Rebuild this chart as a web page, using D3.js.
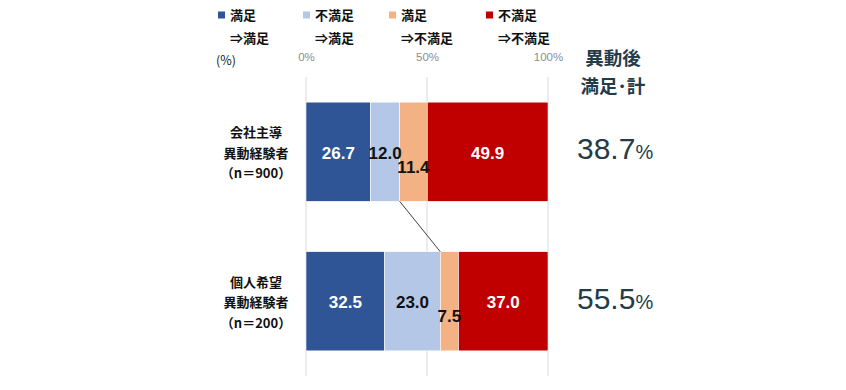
<!DOCTYPE html>
<html><head><meta charset="utf-8">
<script src="https://cdn.jsdelivr.net/npm/d3@7"></script>
<style>body{margin:0;background:#fff;} svg{display:block;}</style>
</head><body>
<svg id="c" width="846" height="390"></svg>
<script>
const categories = ["会社主導\n異動経験者\n（n＝900）", "個人希望\n異動経験者\n（n＝200）"];
const seriesNames = ["満足\n⇒満足", "不満足\n⇒満足", "満足\n⇒不満足", "不満足\n⇒不満足"];
const seriesColors = ["#2F5597", "#B4C7E7", "#F4B183", "#C00000"];
const labelColors = ["#fff", "#111", "#111", "#fff"];
const values = [
  [26.7, 12.0, 11.4, 49.9],
  [32.5, 23.0, 7.5, 37.0]
];
const totals = ["38.7", "55.5"];
const tickValues = [0, 50, 100];

const svg = d3.select("#c");
const JP = "'Noto Sans CJK JP','Noto Sans',sans-serif";
const NUM = "'Liberation Sans',Arial,sans-serif";

const x = d3.scaleLinear().domain([0, 100]).range([306, 548]);
const y = d3.scaleBand().domain(categories).range([77, 376]).paddingInner(0.337).paddingOuter(0.168);

// gridlines
svg.append("g").selectAll("line").data(tickValues).join("line")
  .attr("x1", d => x(d)).attr("x2", d => x(d)).attr("y1", 77).attr("y2", 376)
  .attr("stroke", "#d9d9d9").attr("stroke-width", 1);

// axis tick labels
const ax = d3.axisTop(x).tickValues(tickValues).tickFormat(d => d + "%").tickSize(0);
const axg = svg.append("g").attr("transform", "translate(0,64)").call(ax);
axg.select(".domain").remove();
axg.selectAll("text").attr("fill", "#8c8c8c").attr("font-family", NUM).attr("font-size", 11.5);
svg.append("text").attr("x", 216).attr("y", 60).attr("dy", "0.36em").text("(%)")
  .attr("font-family", JP).attr("font-size", 12.5).attr("fill", "#222");

// bars
const stacked = values.map((row, i) => {
  let c = 0;
  return row.map((v, j) => { const s = c; c += v; return {cat: categories[i], j, v, x0: s, x1: c, ci: i}; });
});
const g = svg.append("g");
stacked.forEach(row => {
  g.selectAll(null).data(row).join("rect")
    .attr("x", d => x(d.x0)).attr("width", d => x(d.x1) - x(d.x0))
    .attr("y", d => y(d.cat)).attr("height", y.bandwidth())
    .attr("fill", d => seriesColors[d.j])
    .attr("stroke", "#fff").attr("stroke-width", 0.6);
  g.selectAll(null).data(row).join("text")
    .attr("x", d => x((d.x0 + d.x1) / 2))
    .attr("y", d => y(d.cat) + y.bandwidth() / 2 + 1 + (d.j === 2 ? 14 : 0))
    .attr("dy", "0.36em").attr("text-anchor", "middle")
    .attr("font-family", NUM).attr("font-weight", "bold").attr("font-size", 17)
    .attr("fill", d => labelColors[d.j])
    .text(d => d.v.toFixed(1));
});

// connector line
const c0 = values[0][0] + values[0][1], c1 = values[1][0] + values[1][1];
svg.append("line")
  .attr("x1", x(c0)).attr("y1", y(categories[0]) + y.bandwidth())
  .attr("x2", x(c1)).attr("y2", y(categories[1]))
  .attr("stroke", "#404040").attr("stroke-width", 1);

// category labels
categories.forEach(c => {
  const lines = c.split("\n");
  const cy = y(c) + y.bandwidth() / 2 + 1.5;
  lines.forEach((t, k) => {
    svg.append("text").attr("x", 256).attr("y", cy + (k - 1) * 20.5).attr("dy", "0.36em")
      .attr("text-anchor", "middle").attr("font-family", JP).attr("font-weight", "bold")
      .attr("font-size", 13).attr("fill", "#111").text(t);
  });
});

// legend
const legX = [218, 303, 389, 486];
seriesNames.forEach((n, i) => {
  const [a, b] = n.split("\n");
  svg.append("rect").attr("x", legX[i]).attr("y", 11.5).attr("width", 7).attr("height", 7).attr("fill", seriesColors[i]);
  svg.append("text").attr("x", legX[i] + 12).attr("y", 15).attr("dy", "0.36em")
    .attr("font-family", JP).attr("font-weight", "bold").attr("font-size", 13).attr("fill", "#111").text(a);
  svg.append("text").attr("x", legX[i] + 12).attr("y", 38).attr("dy", "0.36em")
    .attr("font-family", JP).attr("font-weight", "bold").attr("font-size", 13).attr("fill", "#111").text(b);
});

// right totals
const RC = "#243B4A";
svg.append("text").attr("x", 613).attr("y", 58).attr("dy", "0.36em").attr("text-anchor", "middle")
  .attr("font-family", JP).attr("font-weight", "bold").attr("font-size", 18.5).attr("fill", RC).text("異動後");
svg.append("text").attr("x", 613).attr("y", 86).attr("dy", "0.36em").attr("text-anchor", "middle")
  .attr("font-family", JP).attr("font-weight", "bold").attr("font-size", 18.5).attr("fill", RC).text("満足･計");
totals.forEach((t, i) => {
  const tx = svg.append("text").attr("x", 577).attr("y", y(categories[i]) + y.bandwidth() / 2 + 1.5).attr("dy", "0.36em")
    .attr("font-family", NUM).attr("fill", RC);
  tx.append("tspan").attr("font-size", 30).text(t);
  tx.append("tspan").attr("font-size", 20).text("%");
});
</script>
</body></html>
